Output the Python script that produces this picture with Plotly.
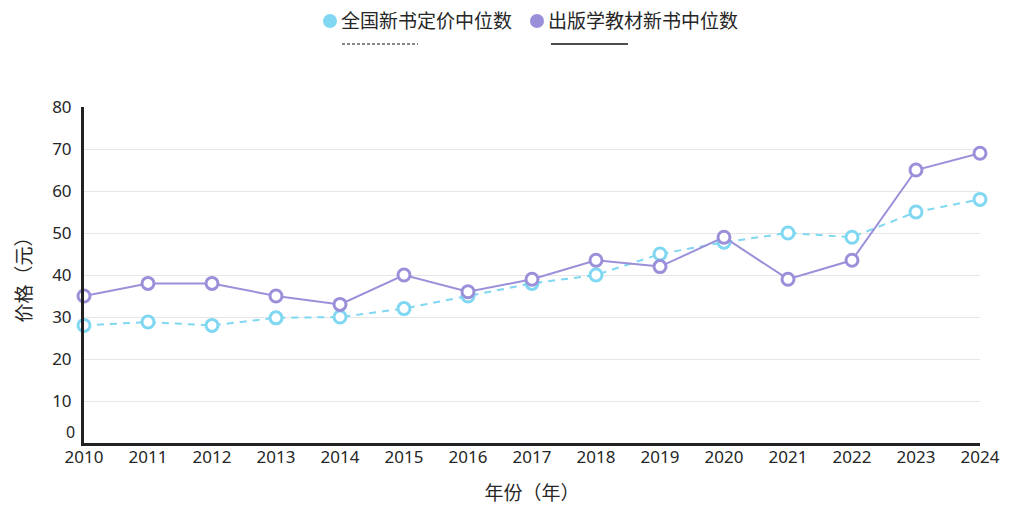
import plotly.graph_objects as go

years = list(range(2010, 2025))
national_median = [28, 28.8, 28, 29.8, 30, 32, 35, 38, 40, 45, 47.8, 50, 49, 55, 58]
textbook_median = [35, 38, 38, 35, 33, 40, 36, 39, 43.5, 42, 49, 39, 43.5, 65, 69]
series_names = ["全国新书定价中位数", "出版学教材新书中位数"]
y_ticks = [10, 20, 30, 40, 50, 60, 70, 80]

CYAN = "#7fd7f2"
PURPLE = "#9a90da"
TEXT = "#262626"
FONT = "Noto Sans, Noto Sans CJK SC, sans-serif"

OFF = 8  # page body margin
W, H = 1020, 513
# plot area in page pixels
L, R, T, B = 84, 980, 107, 443

def px(x):
    return (x - L) / (R - L)

def py(y):
    return (B - y) / (B - T)

fig = go.Figure()
fig.add_trace(go.Scatter(
    x=years, y=national_median, name=series_names[0], mode="lines+markers",
    line=dict(color=CYAN, width=2, dash="7px,6px"),
    marker=dict(symbol="circle", size=12, color="white", line=dict(color=CYAN, width=3)),
    cliponaxis=False,
))
fig.add_trace(go.Scatter(
    x=years, y=textbook_median, name=series_names[1], mode="lines+markers",
    line=dict(color=PURPLE, width=2),
    marker=dict(symbol="circle", size=12, color="white", line=dict(color=PURPLE, width=3)),
    cliponaxis=False,
))

shapes = []
annotations = []
for cx, tx, name, col, lx0, lx1, dash in [
    (330, 339, series_names[0], CYAN, 342, 418, "dot"),
    (537, 546, series_names[1], PURPLE, 551, 628, "solid"),
]:
    r = 7
    shapes.append(dict(type="circle", xref="paper", yref="paper",
                       x0=px(cx - r), x1=px(cx + r), y0=py(21 + r), y1=py(21 - r),
                       fillcolor=col, line=dict(width=0)))
    annotations.append(dict(text=name, xref="paper", yref="paper", x=px(tx), y=py(21),
                            xanchor="left", yanchor="middle", showarrow=False,
                            font=dict(size=19, color=TEXT, family=FONT)))
    shapes.append(dict(type="line", xref="paper", yref="paper",
                       x0=px(lx0), x1=px(lx1), y0=py(44), y1=py(44),
                       line=dict(color="#111111", width=1.5 if dash == "solid" else 1.2,
                                 dash="solid" if dash == "solid" else "3px,2px")))

# zero tick label (raised slightly above the axis line)
annotations.append(dict(text="0", xref="paper", yref="y", x=px(77), y=0, yshift=11,
                        xanchor="right", yanchor="middle", showarrow=False,
                        font=dict(size=16, color=TEXT, family=FONT)))

fig.update_layout(
    width=W, height=H,
    margin=dict(l=L - OFF, r=W - R + OFF, t=T - OFF, b=H - B + OFF, pad=0),
    paper_bgcolor="white", plot_bgcolor="white",
    showlegend=False,
    font=dict(family=FONT, color=TEXT, size=17),
    shapes=shapes, annotations=annotations,
    xaxis=dict(
        range=[2010, 2024], tickvals=years, ticktext=[str(y) for y in years],
        showgrid=False, zeroline=False,
        showline=True, linecolor="#222222", linewidth=3,
        ticks="", ticklabelstandoff=-3,
        tickfont=dict(size=17, color=TEXT),
        title=dict(text="年份（年）", font=dict(size=19, color=TEXT), standoff=20),
    ),
    yaxis=dict(
        range=[0, 80], tickvals=y_ticks, ticktext=[str(v) for v in y_ticks],
        showgrid=True, gridcolor="#e6e6e6", gridwidth=1, zeroline=False,
        showline=True, linecolor="#222222", linewidth=3,
        ticks="", ticklabelstandoff=6,
        tickfont=dict(size=17, color=TEXT),
        title=dict(text="价格（元）", font=dict(size=19, color=TEXT), standoff=16),
    ),
)

fig.write_html("out.html")
